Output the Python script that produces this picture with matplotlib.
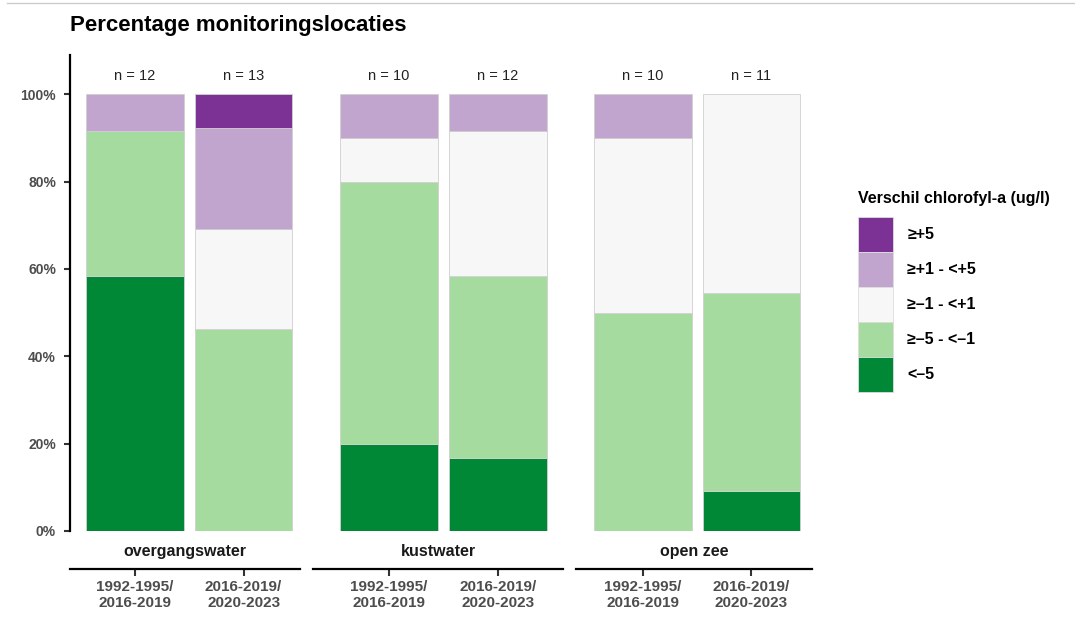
import numpy as np
import matplotlib.pyplot as plt
from matplotlib.patches import Patch
from matplotlib.lines import Line2D

plt.rcParams['font.family'] = ['Liberation Sans', 'DejaVu Sans']

# data (counts of locations per class, bottom to top)
classes = ['<–5', '≥–5 - <–1', '≥–1 - <+1', '≥+1 - <+5', '≥+5']
colors = ['#008837', '#a6dba0', '#f7f7f7', '#c2a5cf', '#7b3294']
panels = ['overgangswater', 'kustwater', 'open zee']
periods = ['1992-1995/\n2016-2019', '2016-2019/\n2020-2023']

overgangswater = [[7, 4, 0, 1, 0], [0, 6, 3, 3, 1]]
kustwater = [[2, 6, 1, 1, 0], [2, 5, 4, 1, 0]]
open_zee = [[0, 5, 4, 1, 0], [1, 5, 5, 0, 0]]
counts = [overgangswater, kustwater, open_zee]

W, H = 1075, 623
fig = plt.figure(figsize=(W / 100, H / 100), dpi=100)

# panel extents in pixels (left, right) and x limits
extents = [(70, 300), (313, 563), (576, 812)]
xlims = [(0.40, 2.52), (0.30, 2.60), (0.38, 2.56)]
y0, y1 = 531, 55

for k, name in enumerate(panels):
    l, r = extents[k]
    ax = fig.add_axes([l / W, (H - y0) / H, (r - l) / W, (y0 - y1) / H])
    # move the spine first: set_position resets the ticks
    ax.spines['bottom'].set_position(('outward', 27.4))
    ax.spines['bottom'].set_linewidth(1.6)
    ax.spines['top'].set_visible(False)
    ax.spines['right'].set_visible(False)
    for j in range(2):
        c = np.array(counts[k][j], dtype=float)
        pct = c / c.sum()
        bottom = 0
        for i in range(len(classes)):
            if pct[i] > 0:
                ax.bar(j + 1, pct[i], bottom=bottom, width=0.9, color=colors[i],
                       edgecolor='#d0d0d0', linewidth=0.6)
            bottom += pct[i]
        ax.text(j + 1, 1.043, 'n = %d' % int(c.sum()), ha='center', va='center',
                fontsize=10.5, color='#222222')
    ax.set_xlim(*xlims[k])
    ax.set_ylim(0, 1.09)
    ax.set_xticks([1, 2])
    ax.set_xticklabels(periods, fontsize=11, fontweight='bold', color='#4d4d4d',
                       linespacing=1.2)
    ax.tick_params(axis='x', direction='out', length=5, width=1.5, color='#333333', pad=3)
    ax.annotate(name, xy=(0.5, 0), xycoords='axes fraction', xytext=(0, -14.5),
                textcoords='offset points', ha='center', va='center',
                fontsize=11.5, fontweight='bold', color='#1a1a1a')
    if k == 0:
        ax.set_yticks([0, 0.2, 0.4, 0.6, 0.8, 1.0])
        ax.set_yticklabels(['0%', '20%', '40%', '60%', '80%', '100%'],
                           fontsize=10, fontweight='bold', color='#4d4d4d')
        ax.tick_params(axis='y', direction='out', length=4, width=1.5, color='#333333', pad=6)
        ax.spines['left'].set_linewidth(1.6)
    else:
        ax.spines['left'].set_visible(False)
        ax.set_yticks([])
    ax.set_facecolor('none')

fig.text(70 / W, 1 - 25 / H, 'Percentage monitoringslocaties', fontsize=16,
         fontweight='bold', ha='left', va='center')

fig.add_artist(Line2D([7 / W, 1], [1 - 3 / H, 1 - 3 / H], color='#cccccc', linewidth=1))

# legend: title as separate text so the gap to the keys matches
fig.text(858 / W, 1 - 198 / H, 'Verschil chlorofyl-a (ug/l)', fontsize=11.5,
         fontweight='bold', ha='left', va='center')
handles = [Patch(facecolor=colors[i], edgecolor='#dddddd', linewidth=0.6, label=classes[i])
           for i in range(len(classes) - 1, -1, -1)]
leg = fig.legend(handles=handles, loc='upper left', bbox_to_anchor=(858 / W, 1 - 217 / H),
                 frameon=False, fontsize=11.5,
                 handlelength=2.19, handleheight=3.0, labelspacing=0.0,
                 handletextpad=0.9, borderpad=0, borderaxespad=0)
for t in leg.get_texts():
    t.set_fontweight('bold')

fig.savefig('out.png', dpi=100)
